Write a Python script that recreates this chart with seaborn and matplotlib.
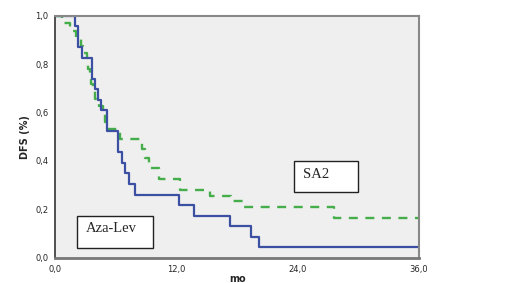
import pandas as pd
import matplotlib.pyplot as plt
import seaborn as sns
from matplotlib.patches import Rectangle

# Data (Kaplan-Meier steps)
aza_time = [0, 1.95, 2.2, 2.6, 3.6, 3.9, 4.2, 4.5, 5.15, 6.25, 6.6, 6.95, 7.3, 7.9,
            12.2, 13.7, 17.3, 19.4, 20.2, 36]
aza_dfs = [1.0, 0.957, 0.870, 0.826, 0.739, 0.696, 0.652, 0.609, 0.522, 0.435, 0.391,
           0.348, 0.304, 0.261, 0.217, 0.174, 0.130, 0.087, 0.043, 0.043]

sa2_time = [0, 0.65, 1.45, 2.1, 2.5, 2.75, 3.1, 3.25, 3.4, 3.55, 3.7, 3.95, 4.3, 4.7,
            4.9, 5.2, 6.4, 8.6, 8.9, 9.25, 10.3, 12.3, 15.3, 17.4, 18.6, 27.6, 36]
sa2_dfs = [1.0, 0.969, 0.938, 0.906, 0.875, 0.844, 0.812, 0.781, 0.75, 0.719, 0.688,
           0.656, 0.625, 0.594, 0.562, 0.531, 0.49, 0.45, 0.41, 0.37, 0.326, 0.28,
           0.256, 0.233, 0.21, 0.163, 0.163]

x_ticks = [0, 12, 24, 36]
x_labels = ['0,0', '12,0', '24,0', '36,0']
y_ticks = [0, 0.2, 0.4, 0.6, 0.8, 1.0]
y_labels = ['0,0', '0,2', '0,4', '0,6', '0,8', '1,0']

df_aza = pd.DataFrame({'mo': aza_time, 'DFS': aza_dfs})
df_sa2 = pd.DataFrame({'mo': sa2_time, 'DFS': sa2_dfs})

sns.set_style("white")

fig = plt.figure(figsize=(5.2, 2.83), dpi=100)
ax = fig.add_axes([0.1063, 0.0894, 0.6995, 0.8551])
ax.set_facecolor('#efefef')

sns.lineplot(data=df_sa2, x='mo', y='DFS', ax=ax, drawstyle='steps-post',
             estimator=None, sort=False, color='#45ad4a', linewidth=1.7,
             linestyle=(0, (3.8, 3.2)))
sns.lineplot(data=df_aza, x='mo', y='DFS', ax=ax, drawstyle='steps-post',
             estimator=None, sort=False, color='#3b4fa3', linewidth=1.6)

ax.set_xlim(0, 36)
ax.set_ylim(0, 1.0)
ax.set_xticks(x_ticks)
ax.set_xticklabels(x_labels, fontsize=6)
ax.set_yticks(y_ticks)
ax.set_yticklabels(y_labels, fontsize=6)
ax.tick_params(axis='x', length=4, width=2.2, color='black', pad=1)
ax.tick_params(axis='y', length=4, width=1, color='#333333', pad=1)

ax.set_xlabel('mo', fontsize=7, fontweight='bold', labelpad=0)
ax.set_ylabel('DFS (%)', fontsize=7, fontweight='bold', labelpad=4)

for side in ['top', 'right']:
    ax.spines[side].set_color('#888888')
    ax.spines[side].set_linewidth(1.5)
ax.spines['bottom'].set_color('#777777')
ax.spines['bottom'].set_linewidth(2)
ax.spines['left'].set_color('#333333')
ax.spines['left'].set_linewidth(1.2)

# Labelled boxes
ax.add_patch(Rectangle((0.0588, 0.039), 0.2107, 0.1346, transform=ax.transAxes,
                       facecolor='white', edgecolor='#222222', linewidth=1, zorder=5))
ax.text(0.0836, 0.119, 'Aza-Lev', transform=ax.transAxes, fontsize=10.5,
        family='Liberation Serif', va='center', ha='left', zorder=6)
ax.add_patch(Rectangle((0.657, 0.270), 0.176, 0.13, transform=ax.transAxes,
                       facecolor='white', edgecolor='#222222', linewidth=1, zorder=5))
ax.text(0.681, 0.345, 'SA2', transform=ax.transAxes, fontsize=10.5,
        family='Liberation Serif', va='center', ha='left', zorder=6)

fig.savefig('out.png', dpi=100)
